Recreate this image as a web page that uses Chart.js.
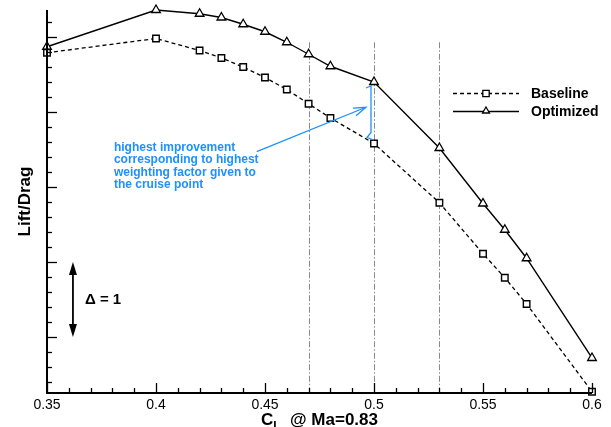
<!DOCTYPE html>
<html>
<head>
<meta charset="utf-8">
<script src="https://cdn.jsdelivr.net/npm/chart.js@4.4.1/dist/chart.umd.min.js"></script>
<style>
html,body{margin:0;padding:0;background:#fff;}
canvas{display:block;}
</style>
</head>
<body>
<canvas id="c" width="611" height="427"></canvas>
<script>
// ---- data ----
const cl        = [0.35, 0.40, 0.42, 0.43, 0.44, 0.45, 0.46, 0.47, 0.48, 0.50, 0.53, 0.55, 0.56, 0.57, 0.60];
const baseline  = [19.79, 19.98, 19.82, 19.72, 19.60, 19.46, 19.30, 19.11, 18.92, 18.58, 17.79, 17.11, 16.79, 16.44, 15.27];
const optimized = [19.87, 20.36, 20.31, 20.26, 20.17, 20.07, 19.93, 19.77, 19.61, 19.40, 18.52, 17.78, 17.43, 17.05, 15.72];
const xTickLabels = ['0.35', '0.4', '0.45', '0.5', '0.55', '0.6'];
const yMajorTicks = [16, 17, 18, 19, 20];
const refLines = [0.47, 0.50, 0.53];
const seriesNames = ['Baseline', 'Optimized'];
const annotationLines = ['highest improvement', 'corresponding to highest', 'weighting factor given to', 'the cruise point'];
const deltaLabel = '\u0394 = 1';

const FONT = "'Liberation Sans', Arial, Helvetica, sans-serif";
Chart.defaults.font.family = FONT;
Chart.defaults.color = '#000';

const X_MIN = 0.35, X_MAX = 0.60, Y_MIN = 15.253, Y_MAX = 20.36;
const BLUE = '#1e90ff';

function drawTri(ctx, x, y, r) {
  ctx.beginPath();
  ctx.moveTo(x, y - r);
  ctx.lineTo(x + r * 0.866, y + r * 0.5);
  ctx.lineTo(x - r * 0.866, y + r * 0.5);
  ctx.closePath();
  ctx.fill(); ctx.stroke();
}
function drawSq(ctx, x, y, h) {
  ctx.beginPath();
  ctx.rect(x - h, y - h, 2 * h, 2 * h);
  ctx.fill(); ctx.stroke();
}

const decor = {
  id: 'decor',
  beforeDatasetsDraw(chart) {
    const {ctx, scales: {x, y}, chartArea: a} = chart;
    ctx.save();
    ctx.strokeStyle = '#8a8a8a';
    ctx.lineWidth = 1;
    ctx.setLineDash([6, 2, 1.5, 2]);
    const top = y.getPixelForValue(19.93);
    refLines.forEach(v => {
      const px = Math.round(x.getPixelForValue(v)) + 0.5;
      ctx.beginPath(); ctx.moveTo(px, top); ctx.lineTo(px, a.bottom); ctx.stroke();
    });
    ctx.restore();
  },
  afterDraw(chart) {
    const {ctx, scales: {x, y}, chartArea: a} = chart;
    ctx.save();
    // axes
    ctx.strokeStyle = '#000';
    ctx.lineWidth = 2;
    ctx.beginPath();
    ctx.moveTo(a.left, a.top); ctx.lineTo(a.left, a.bottom); ctx.lineTo(a.right, a.bottom);
    ctx.stroke();
    // y ticks
    ctx.lineWidth = 1.3;
    for (let i = 0; ; i++) {
      const v = 15.4 + i * 0.2;
      if (v > Y_MAX + 1e-9) break;
      const major = yMajorTicks.some(m => Math.abs(m - v) < 1e-6);
      const py = Math.round(y.getPixelForValue(v)) + 0.5;
      ctx.beginPath(); ctx.moveTo(a.left, py); ctx.lineTo(a.left + (major ? 10 : 5), py); ctx.stroke();
    }
    // x ticks
    for (let i = 0; i <= 25; i++) {
      const v = X_MIN + i * 0.01;
      const major = i % 5 === 0;
      const px = Math.round(x.getPixelForValue(v)) + 0.5;
      ctx.beginPath(); ctx.moveTo(px, a.bottom); ctx.lineTo(px, a.bottom - (major ? 10 : 5)); ctx.stroke();
    }
    // x title with subscript
    ctx.fillStyle = '#000';
    ctx.textBaseline = 'alphabetic';
    const big = 'bold 17px ' + FONT, small = 'bold 12px ' + FONT;
    ctx.font = big; const wC = ctx.measureText('C').width;
    ctx.font = small; const wL = ctx.measureText('L').width;
    ctx.font = big; const rest = '  @ Ma=0.83'; const wR = ctx.measureText(rest).width;
    const cx = (a.left + a.right) / 2;
    let tx = cx - (wC + wL + wR) / 2;
    ctx.textAlign = 'left';
    ctx.fillText('C', tx, 425); tx += wC;
    ctx.font = small; ctx.fillText('L', tx, 430); tx += wL;
    ctx.font = big; ctx.fillText(rest, tx, 425);

    // legend
    const lx0 = 453, lx1 = 519, lxm = 486, ly1 = 93.5, ly2 = 111.5;
    ctx.lineWidth = 1.3;
    ctx.setLineDash([4, 3]);
    ctx.beginPath(); ctx.moveTo(lx0, ly1); ctx.lineTo(lx1, ly1); ctx.stroke();
    ctx.setLineDash([]);
    ctx.beginPath(); ctx.moveTo(lx0, ly2); ctx.lineTo(lx1, ly2); ctx.stroke();
    ctx.fillStyle = '#fff';
    drawSq(ctx, lxm, ly1, 3.2);
    drawTri(ctx, lxm, ly2 - 0.5, 4);
    ctx.fillStyle = '#000';
    ctx.font = 'bold 14px ' + FONT;
    ctx.textBaseline = 'middle';
    ctx.fillText(seriesNames[0], 531, ly1 + 0.5);
    ctx.fillText(seriesNames[1], 531, ly2 + 0.5);

    // annotation text
    ctx.fillStyle = BLUE;
    ctx.font = 'bold 12px ' + FONT;
    const ax = x.getPixelForValue(0.3807);
    annotationLines.forEach((t, i) => ctx.fillText(t, ax, 148 + i * 12.1));
    // annotation arrow
    ctx.strokeStyle = BLUE;
    ctx.lineWidth = 1.3;
    const sx = x.getPixelForValue(0.4462), sy = y.getPixelForValue(18.471);
    const ex = x.getPixelForValue(0.4963), ey = y.getPixelForValue(19.063);
    ctx.beginPath(); ctx.moveTo(sx, sy); ctx.lineTo(ex, ey); ctx.stroke();
    const ang = Math.atan2(ey - sy, ex - sx), L = 13, h = 0.32;
    ctx.beginPath();
    ctx.moveTo(ex - L * Math.cos(ang - h), ey - L * Math.sin(ang - h));
    ctx.lineTo(ex, ey);
    ctx.lineTo(ex - L * Math.cos(ang + h), ey - L * Math.sin(ang + h));
    ctx.stroke();
    // brace
    const bx = x.getPixelForValue(0.5) - 3;
    const bt = y.getPixelForValue(optimized[9]) + 3.5;
    const bb = y.getPixelForValue(baseline[9]) - 8;
    ctx.beginPath();
    ctx.moveTo(bx - 5, bt + 2.5); ctx.lineTo(bx + 1, bt);
    ctx.moveTo(bx, bt + 0.5); ctx.lineTo(bx, bb - 3);
    ctx.lineTo(bx - 4, bb + 2); ctx.lineTo(bx + 3, bb + 4.5);
    ctx.stroke();

    // delta arrow
    ctx.strokeStyle = '#000'; ctx.fillStyle = '#000';
    const dx = x.getPixelForValue(0.3619);
    const dt = y.getPixelForValue(17), db = y.getPixelForValue(16);
    const hl = 13, hw = 4;
    ctx.lineWidth = 1.8;
    ctx.beginPath(); ctx.moveTo(dx, dt + hl - 1); ctx.lineTo(dx, db - hl + 1); ctx.stroke();
    ctx.beginPath(); ctx.moveTo(dx, dt); ctx.lineTo(dx + hw, dt + hl); ctx.lineTo(dx - hw, dt + hl); ctx.closePath(); ctx.fill();
    ctx.beginPath(); ctx.moveTo(dx, db); ctx.lineTo(dx + hw, db - hl); ctx.lineTo(dx - hw, db - hl); ctx.closePath(); ctx.fill();
    ctx.font = 'bold 15px ' + FONT;
    ctx.textBaseline = 'middle';
    ctx.fillText(deltaLabel, x.getPixelForValue(0.3674), y.getPixelForValue(16.5));
    ctx.restore();
  }
};

const pts = arr => cl.map((v, i) => ({x: v, y: arr[i]}));

new Chart(document.getElementById('c'), {
  type: 'line',
  data: {
    datasets: [
      {
        label: seriesNames[0], data: pts(baseline),
        borderColor: '#000', borderWidth: 1.3, borderDash: [4, 3],
        pointStyle: 'rect', pointRadius: 4.6, pointBorderWidth: 1.4,
        pointBackgroundColor: '#fff', pointBorderColor: '#000',
        tension: 0, clip: false
      },
      {
        label: seriesNames[1], data: pts(optimized),
        borderColor: '#000', borderWidth: 1.4,
        pointStyle: 'triangle', pointRadius: 5, pointBorderWidth: 1.3,
        pointBackgroundColor: '#fff', pointBorderColor: '#000',
        tension: 0, clip: false
      }
    ]
  },
  options: {
    responsive: false,
    animation: false,
    devicePixelRatio: 1,
    layout: {padding: {top: 10, right: 19, left: 0, bottom: 0}},
    plugins: {legend: {display: false}, tooltip: {enabled: false}},
    scales: {
      x: {
        type: 'linear', min: X_MIN, max: X_MAX,
        grid: {display: false, drawTicks: false},
        border: {display: false},
        afterBuildTicks: s => { s.ticks = xTickLabels.map(t => ({value: Number(t)})); },
        ticks: {
          padding: 4, autoSkip: false, maxRotation: 0,
          font: {size: 14}, color: '#000',
          callback: v => { const t = xTickLabels.find(l => Math.abs(Number(l) - v) < 1e-9); return t === undefined ? '' : t; }
        },
        afterFit: s => { s.height = 34; }
      },
      y: {
        type: 'linear', min: Y_MIN, max: Y_MAX,
        grid: {display: false, drawTicks: false},
        border: {display: false},
        ticks: {display: false},
        title: {display: true, text: 'Lift/Drag', font: {size: 17, weight: 'bold'}, color: '#000', padding: {top: 15, bottom: 0}},
        afterFit: s => { s.width = 47; }
      }
    }
  },
  plugins: [decor]
});
</script>
</body>
</html>
